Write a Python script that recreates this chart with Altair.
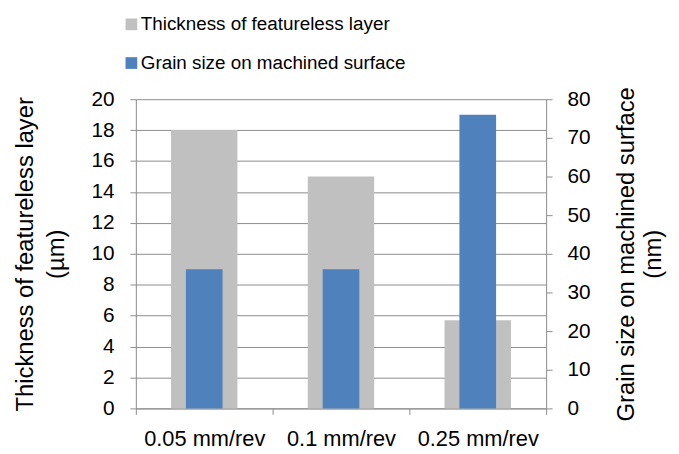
import altair as alt
import pandas as pd

categories = ["0.05 mm/rev", "0.1 mm/rev", "0.25 mm/rev"]
thickness = [18, 15, 5.7]
grain = [36, 36, 76]
series = ["Thickness of featureless layer", "Grain size on machined surface"]
colors = ["#C0C0C0", "#4F81BD"]

df = pd.DataFrame({"feed": categories, "thickness": thickness, "grain": grain})

FONT = "Liberation Sans"
AX = "#8c8c8c"

color_scale = alt.Scale(domain=series, range=colors)

base = alt.Chart(df).encode(
    x=alt.X(
        "feed:N",
        sort=categories,
        scale=alt.Scale(paddingInner=0, paddingOuter=0),
        axis=alt.Axis(
            title=None, labelAngle=0, tickBand="extent", labelFontSize=22,
            labelPadding=14, tickSize=6, domainColor=AX, tickColor=AX, grid=False,
        ),
    )
)

gray = base.transform_calculate(s=f"'{series[0]}'").mark_bar(size=67).encode(
    y=alt.Y(
        "thickness:Q",
        scale=alt.Scale(domain=[0, 20], nice=False),
        axis=alt.Axis(
            orient="left", values=list(range(0, 21, 2)), grid=True,
            title=["Thickness of  featureless layer", "(µm)"],
            titlePadding=23, labelPadding=16, tickSize=6, titleLineHeight=31,
        ),
    ),
    color=alt.Color(
        "s:N",
        scale=color_scale,
        legend=alt.Legend(
            title=None, orient="none", legendX=-14, legendY=-85,
            direction="vertical", symbolType="square", symbolSize=140,
            labelFontSize=19, labelFont=FONT, rowPadding=19, labelOffset=0,
            symbolStrokeWidth=0, padding=0, labelLimit=0,
        ),
    ),
)

blue = base.transform_calculate(s=f"'{series[1]}'").mark_bar(size=37).encode(
    y=alt.Y(
        "grain:Q",
        scale=alt.Scale(domain=[0, 80], nice=False),
        axis=alt.Axis(
            orient="right", values=list(range(0, 81, 10)), grid=False,
            title=["Grain size on machined surface", "(nm)"],
            titleAngle=-90, titlePadding=22, labelPadding=15, tickSize=6,
            titleLineHeight=27,
        ),
    ),
    color=alt.Color("s:N", scale=color_scale),
)

chart = (
    alt.layer(gray, blue)
    .resolve_scale(y="independent")
    .properties(width=414, height=312)
    .configure_view(strokeWidth=0)
    .configure_axis(
        labelFont=FONT, titleFont=FONT, labelFontSize=21, titleFontSize=24,
        titleFontWeight="normal", labelColor="#000", titleColor="#000",
        domainColor=AX, tickColor=AX, gridColor=AX, gridOpacity=1,
    )
    .configure_legend(labelColor="#000")
)

chart.save("out.html", embed_options={"renderer": "svg", "actions": False})
